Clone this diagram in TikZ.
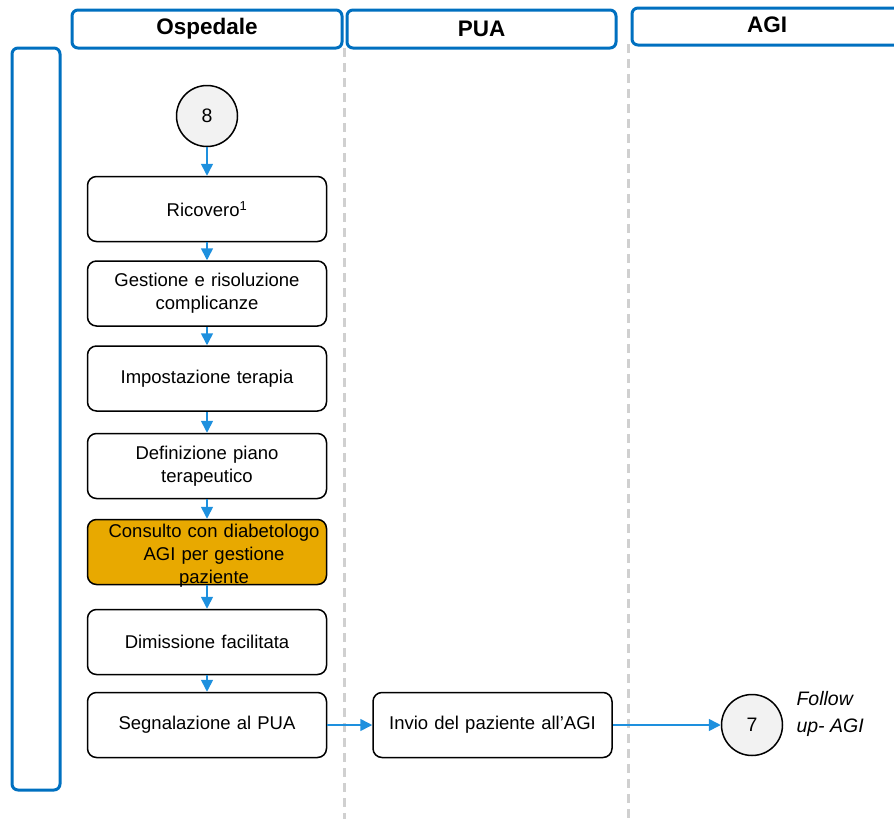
\documentclass[tikz,border=0pt]{standalone}
\usepackage{fontspec}
\setmainfont{Liberation Sans}
\usetikzlibrary{arrows.meta,positioning}
\definecolor{laneblue}{RGB}{0,112,192}
\definecolor{flowblue}{RGB}{30,144,222}
\definecolor{consultorange}{RGB}{232,169,0}
\definecolor{circlegray}{RGB}{242,242,242}
\definecolor{dashgray}{RGB}{208,208,208}

\tikzset{
  lanehead/.style={draw=laneblue,line width=3pt,rounded corners=6pt,fill=white,
    font=\fontsize{22.5}{26}\selectfont\bfseries,inner sep=0pt},
  stepbox/.style={draw=black,line width=1.5pt,rounded corners=9pt,fill=white,
    minimum width=239pt,minimum height=65pt,text width=225pt,align=center,
    font=\fontsize{18.5}{23}\selectfont,inner sep=0pt},
  linkcircle/.style={circle,draw=black,line width=1.5pt,fill=circlegray,
    minimum size=61pt,inner sep=0pt,font=\fontsize{19.5}{22}\selectfont},
  flow/.style={draw=flowblue,line width=1.6pt,-{Triangle[length=12pt,width=12pt]}},
  laneline/.style={dashgray,line width=3pt,dash pattern=on 9pt off 6pt}
}

\begin{document}
\begin{tikzpicture}[x=1pt,y=-1pt]
\useasboundingbox (0,0) rectangle (894,819);
% lane separators
\draw[laneline] (344,48) -- (344,819);
\draw[laneline] (628,44) -- (628,819);
% lane headers
\node[lanehead,minimum width=270pt,minimum height=38pt] (hosp) at (207,29) {Ospedale};
\node[lanehead,minimum width=269pt,minimum height=38pt] (pua) at (481.5,29) {PUA};
\node[lanehead,minimum width=270pt,minimum height=37pt] (agi) at (767,26.5)
  {\raisebox{4pt}{AGI}};
\draw[laneblue,line width=3pt,rounded corners=6pt] (12,790) rectangle (60,48);
% steps
\node[linkcircle] (c8) at (207,116) {8};
\node[stepbox] (ricovero) at (207,209) {Ricovero\textsuperscript{1}};
\node[stepbox] (gestione) at (207,293.5) {Gestione e risoluzione\\complicanze};
\node[stepbox] (terapia) at (207,378.5) {Impostazione terapia};
\node[stepbox] (piano) at (207,466) {Definizione piano\\terapeutico};
\node[stepbox,fill=consultorange] (consulto) at (207,552)
  {\raisebox{-8pt}[0pt][0pt]{\parbox{239pt}{\centering Consulto con diabetologo\\AGI per gestione\\paziente}}};
\node[stepbox] (dimissione) at (207,642) {Dimissione facilitata};
\node[stepbox] (segnalazione) at (207,725) {Segnalazione al PUA};
\node[stepbox] (invio) at (492.5,725) {Invio del paziente all'AGI};
\node[linkcircle] (c7) at (752,725) {7};
\node[anchor=north west,align=left,font=\fontsize{19.5}{27}\selectfont\itshape] (fup) at (793,688)
  {Follow\\up- AGI};
% connectors
\draw[flow] (c8) -- (ricovero);
\draw[flow] (ricovero) -- (gestione);
\draw[flow] (gestione) -- (terapia);
\draw[flow] (terapia) -- (piano);
\draw[flow] (piano) -- (consulto);
\draw[flow] (consulto) -- (dimissione);
\draw[flow] (dimissione) -- (segnalazione);
\draw[flow] (segnalazione) -- (invio);
\draw[flow] (invio) -- (c7);
\end{tikzpicture}
\end{document}
